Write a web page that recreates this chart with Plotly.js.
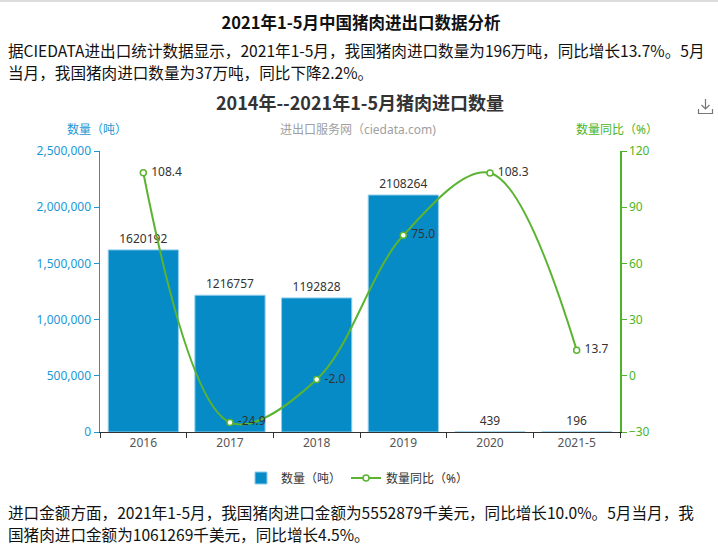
<!DOCTYPE html>
<html>
<head>
<meta charset="utf-8">
<script src="https://cdn.plot.ly/plotly-3.0.1.min.js"></script>
<style>
  html, body { margin: 0; padding: 0; background: #fff; }
  body { width: 718px; height: 551px; position: relative; overflow: hidden;
         font-family: "Noto Sans CJK SC", "Noto Sans", sans-serif; }
  .topline { position: absolute; left: 0; top: 0; width: 718px; height: 2px; background: #dcdcdc; }
  .title { position: absolute; left: 0; top: 9px; width: 722px; text-align: center;
           font-size: 16.5px; font-weight: bold; line-height: 26px; color: #111; }
  .para { position: absolute; left: 8px; font-size: 15.6px; line-height: 22px;
          color: #111; white-space: nowrap; }
  #chart { position: absolute; left: 0; top: 0; width: 718px; height: 551px; }
  .dl { position: absolute; left: 697px; top: 98px; width: 17px; height: 17px; }
</style>
</head>
<body>
<div class="topline"></div>
<div class="title">2021年1-5月中国猪肉进出口数据分析</div>
<div class="para" style="top:39px">据CIEDATA进出口统计数据显示，2021年1-5月，我国猪肉进口数量为196万吨，同比增长13.7%。5月<br>当月，我国猪肉进口数量为37万吨，同比下降2.2%。</div>
<div class="para" style="top:501px">进口金额方面，2021年1-5月，我国猪肉进口金额为5552879千美元，同比增长10.0%。5月当月，我<br>国猪肉进口金额为1061269千美元，同比增长4.5%。</div>
<div id="chart"></div>
<svg class="dl" viewBox="0 0 17 17">
  <path d="M8.5 1 V11 M4.5 7 L8.5 11 L12.5 7 M1.5 11 V15.5 H15.5 V11" fill="none" stroke="#777" stroke-width="1.2"/>
</svg>
<script>
// Pork import volume, 2016 to Jan-May 2021
const categories = ["2016", "2017", "2018", "2019", "2020", "2021-5"];
const volumeTons = [1620192, 1216757, 1192828, 2108264, 439, 196];
const yoyPercent = [108.4, -24.9, -2.0, 75.0, 108.3, 13.7];

const blue = "#078bc6";
const axisBlue = "#1a98d5";
const green = "#5ab431";
const axisGreen = "#4cb526";
const fontStack = "Noto Sans, Noto Sans CJK SC, sans-serif";

// plot area in page pixels, used to place the free-floating labels
const PX = {left: 100, right: 620, top: 151, bottom: 432};
const px = x => (x - PX.left) / (PX.right - PX.left);
const py = y => (PX.bottom - y) / (PX.bottom - PX.top);

const barTrace = {
  type: "bar",
  name: "数量（吨）",
  x: categories,
  y: volumeTons,
  text: volumeTons.map(String),
  textposition: "outside",
  outsidetextfont: {size: 12, color: "#333"},
  cliponaxis: false,
  marker: {color: blue, line: {color: "#8fcdeb", width: 1}},
  hoverinfo: "x+y"
};

const lineTrace = {
  type: "scatter",
  mode: "lines+markers+text",
  name: "数量同比（%）",
  x: categories,
  y: yoyPercent,
  yaxis: "y2",
  text: yoyPercent.map(v => "\u00a0" + v.toFixed(1)),
  textposition: "middle right",
  textfont: {size: 12, color: "#333"},
  cliponaxis: false,
  line: {color: green, width: 2, shape: "spline", smoothing: 1},
  marker: {symbol: "circle", size: 6, color: "#fff", line: {color: green, width: 1.5}}
};

const layout = {
  width: 718,
  height: 551,
  margin: {l: PX.left, r: 718 - PX.right, t: PX.top, b: 551 - PX.bottom, pad: 0},
  paper_bgcolor: "rgba(0,0,0,0)",
  plot_bgcolor: "rgba(0,0,0,0)",
  font: {family: fontStack, size: 12, color: "#333"},
  bargap: 0.19,
  showlegend: true,
  title: {
    text: "2014年--2021年1-5月猪肉进口数量",
    font: {family: "Noto Sans CJK SC, sans-serif", size: 18, color: "#333", weight: "bold"},
    x: 360 / 718, xanchor: "center",
    y: 1 - 104 / 551, yanchor: "middle"
  },
  legend: {
    orientation: "h",
    x: px(357), xanchor: "center",
    y: py(478), yanchor: "middle",
    font: {size: 12, color: "#333"},
    itemwidth: 30
  },
  xaxis: {
    type: "category",
    showgrid: false,
    showline: true,
    linecolor: "#333",
    linewidth: 1,
    ticks: "outside",
    tickson: "boundaries",
    ticklen: 5,
    tickcolor: "#333",
    tickfont: {size: 12, color: "#555"},
    fixedrange: true
  },
  yaxis: {
    range: [0, 2500000],
    dtick: 500000,
    tickformat: ",",
    showgrid: false,
    zeroline: false,
    showline: true,
    linecolor: axisBlue,
    linewidth: 1.5,
    ticks: "outside",
    ticklen: 5,
    tickcolor: axisBlue,
    tickfont: {size: 12, color: axisBlue},
    fixedrange: true
  },
  yaxis2: {
    overlaying: "y",
    side: "right",
    range: [-30, 120],
    dtick: 30,
    showgrid: false,
    zeroline: false,
    showline: true,
    linecolor: axisGreen,
    linewidth: 1.5,
    ticks: "outside",
    ticklen: 5,
    tickcolor: axisGreen,
    tickfont: {size: 12, color: axisGreen},
    fixedrange: true
  },
  annotations: [
    {text: "进出口服务网（ciedata.com)", xref: "paper", yref: "paper",
     x: px(358), y: py(129), xanchor: "center", yanchor: "middle",
     showarrow: false, font: {size: 12, color: "#a0a0a0"}},
    {text: "数量（吨）", xref: "paper", yref: "paper",
     x: px(97), y: py(129), xanchor: "center", yanchor: "middle",
     showarrow: false, font: {size: 12, color: axisBlue}},
    {text: "数量同比（%）", xref: "paper", yref: "paper",
     x: px(617), y: py(129), xanchor: "center", yanchor: "middle",
     showarrow: false, font: {size: 12, color: axisGreen}}
  ]
};

Plotly.newPlot("chart", [barTrace, lineTrace], layout, {displayModeBar: false, staticPlot: true});
</script>
</body>
</html>
